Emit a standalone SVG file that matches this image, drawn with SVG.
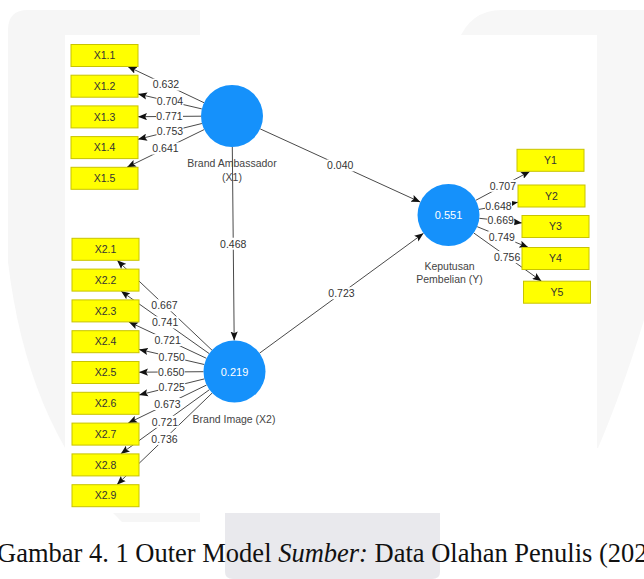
<svg xmlns="http://www.w3.org/2000/svg" width="644" height="579" viewBox="0 0 644 579">
  <defs>
    <marker id="arr" viewBox="0 0 10 8" refX="10" refY="4" markerWidth="9" markerHeight="7.5" markerUnits="userSpaceOnUse" orient="auto">
      <path d="M0,0 L10,4 L0,8 L2,4 z" fill="#111"/>
    </marker>
    <style>
      .ind rect { fill: #ffff00; stroke: #c8c400; stroke-width: 1; }
      .ind text { font-family: "Liberation Sans", Arial, sans-serif; font-size: 10.5px; fill: #333; text-anchor: middle; }
      .lv circle { fill: #1591fb; }
      .lv .val { font-family: "Liberation Sans", Arial, sans-serif; font-size: 11px; fill: #ffffff; text-anchor: middle; }
      .lv .name { font-family: "Liberation Sans", Arial, sans-serif; font-size: 10.5px; fill: #444; text-anchor: middle; }
      #connectors line { stroke: #4a4a4a; stroke-width: 1; marker-end: url(#arr); }
      .lbl rect { fill: #ffffff; }
      .lbl text { font-family: "Liberation Sans", Arial, sans-serif; font-size: 10.5px; fill: #333; text-anchor: middle; }
    </style>
  </defs>

  <!-- page background with faint watermark -->
  <rect x="0" y="0" width="644" height="579" fill="#ffffff"/>
  <path d="M8,30 Q8,10 28,10 L200,10 L200,522 L122,522 Q28,430 8,262 Z" fill="#f6f6f6"/>
  <path d="M458,42 Q470,10 502,10 L644,10 L644,320 Q622,392 598,448 L458,448 Z" fill="#f7f7f7"/>
  <path d="M225,513 L440,513 L440,572 Q440,579 432,579 L233,579 Q225,579 225,572 Z" fill="#e9e9ed"/>

  <!-- model canvas -->
  <rect x="65" y="35" width="532" height="478" fill="#ffffff"/>

  <!-- connectors -->
  <g id="connectors">
    <!-- Brand Ambassador indicators -->
    <line x1="204" y1="102.7" x2="127.7" y2="66.5"/>
    <line x1="201.8" y1="108.9" x2="138" y2="94"/>
    <line x1="201" y1="116.2" x2="138" y2="116.7"/>
    <line x1="201.9" y1="123.5" x2="138" y2="139.3"/>
    <line x1="204.1" y1="129.6" x2="127" y2="167.3"/>
    <!-- Brand Image indicators -->
    <line x1="212" y1="350.2" x2="117.1" y2="260.3"/>
    <line x1="209.2" y1="353.6" x2="121" y2="291.1"/>
    <line x1="206.4" y1="358.3" x2="128.9" y2="321.9"/>
    <line x1="204.3" y1="364.5" x2="139" y2="349.4"/>
    <line x1="203.5" y1="371.7" x2="139" y2="372.2"/>
    <line x1="204.4" y1="378.9" x2="139" y2="395"/>
    <line x1="206.6" y1="385" x2="128.2" y2="423.1"/>
    <line x1="209.4" y1="389.7" x2="120.7" y2="453.9"/>
    <line x1="212.2" y1="393" x2="116.9" y2="484.7"/>
    <!-- Keputusan Pembelian indicators -->
    <line x1="475.8" y1="200.3" x2="530" y2="171.3"/>
    <line x1="479" y1="209.4" x2="518" y2="202.2"/>
    <line x1="479.3" y1="218.3" x2="522" y2="222.9"/>
    <line x1="477.2" y1="226.7" x2="528.4" y2="247.5"/>
    <line x1="473.8" y1="233" x2="541.5" y2="281.2"/>
    <!-- structural paths -->
    <line x1="260.2" y1="128.9" x2="420.3" y2="202.1"/>
    <line x1="232.3" y1="147" x2="234.2" y2="340.5"/>
    <line x1="259.5" y1="353.2" x2="423.5" y2="233.3"/>
  </g>

  <!-- path coefficients and loadings -->
  <g id="labels" class="lbl">
    <rect x="152.5" y="78.6" width="27" height="12"/><text x="166" y="88.4">0.632</text>
    <rect x="156.5" y="95.5" width="27" height="12"/><text x="170" y="105.3">0.704</text>
    <rect x="156" y="110.4" width="27" height="12"/><text x="169.5" y="120.2">0.771</text>
    <rect x="156.5" y="125.4" width="27" height="12"/><text x="170" y="135.2">0.753</text>
    <rect x="152" y="142.5" width="27" height="12"/><text x="165.5" y="152.3">0.641</text>

    <rect x="151" y="299.3" width="27" height="12"/><text x="164.5" y="309.1">0.667</text>
    <rect x="151.6" y="316.4" width="27" height="12"/><text x="165.1" y="326.2">0.741</text>
    <rect x="154.1" y="334.1" width="27" height="12"/><text x="167.6" y="343.9">0.721</text>
    <rect x="158.2" y="351" width="27" height="12"/><text x="171.7" y="360.8">0.750</text>
    <rect x="157.7" y="366" width="27" height="12"/><text x="171.2" y="375.8">0.650</text>
    <rect x="158.2" y="381" width="27" height="12"/><text x="171.7" y="390.8">0.725</text>
    <rect x="153.9" y="398" width="27" height="12"/><text x="167.4" y="407.8">0.673</text>
    <rect x="151.5" y="415.8" width="27" height="12"/><text x="165" y="425.6">0.721</text>
    <rect x="151" y="432.9" width="27" height="12"/><text x="164.5" y="442.7">0.736</text>

    <rect x="489.4" y="179.8" width="27" height="12"/><text x="502.9" y="189.6">0.707</text>
    <rect x="485" y="199.8" width="27" height="12"/><text x="498.5" y="209.6">0.648</text>
    <rect x="487.2" y="214.6" width="27" height="12"/><text x="500.7" y="224.4">0.669</text>
    <rect x="488.3" y="231.1" width="27" height="12"/><text x="501.8" y="240.9">0.749</text>
    <rect x="493.6" y="251.1" width="27" height="12"/><text x="507.1" y="260.9">0.756</text>

    <rect x="326.7" y="159.5" width="27" height="12"/><text x="340.2" y="169.3">0.040</text>
    <rect x="219.7" y="237.7" width="27" height="12"/><text x="233.2" y="247.5">0.468</text>
    <rect x="328" y="287.2" width="27" height="12"/><text x="341.5" y="297">0.723</text>
  </g>

  <!-- latent variables -->
  <g id="X1" class="lv">
    <circle cx="232" cy="116" r="31"/>
    <text class="name" x="232" y="167">Brand Ambassador</text>
    <text class="name" x="232" y="180.5">(X1)</text>
  </g>
  <g id="X2" class="lv">
    <circle cx="234.5" cy="371.5" r="31"/>
    <text class="val" x="234.5" y="375.5">0.219</text>
    <text class="name" x="234" y="423">Brand Image (X2)</text>
  </g>
  <g id="Y" class="lv">
    <circle cx="448.5" cy="215" r="31"/>
    <text class="val" x="448.5" y="219">0.551</text>
    <text class="name" x="449.5" y="270">Keputusan</text>
    <text class="name" x="449.5" y="282.5">Pembelian (Y)</text>
  </g>

  <!-- indicators of Brand Ambassador -->
  <g id="X1.1" class="ind"><rect x="71" y="44.5" width="67" height="22"/><text x="104.5" y="59.2">X1.1</text></g>
  <g id="X1.2" class="ind"><rect x="71" y="75.2" width="67" height="22"/><text x="104.5" y="89.9">X1.2</text></g>
  <g id="X1.3" class="ind"><rect x="71" y="105.9" width="67" height="22"/><text x="104.5" y="120.6">X1.3</text></g>
  <g id="X1.4" class="ind"><rect x="71" y="136.6" width="67" height="22"/><text x="104.5" y="151.3">X1.4</text></g>
  <g id="X1.5" class="ind"><rect x="71" y="167.3" width="67" height="22"/><text x="104.5" y="182">X1.5</text></g>

  <!-- indicators of Brand Image -->
  <g id="X2.1" class="ind"><rect x="72" y="238.3" width="67" height="22"/><text x="105.5" y="253">X2.1</text></g>
  <g id="X2.2" class="ind"><rect x="72" y="269.1" width="67" height="22"/><text x="105.5" y="283.8">X2.2</text></g>
  <g id="X2.3" class="ind"><rect x="72" y="299.9" width="67" height="22"/><text x="105.5" y="314.6">X2.3</text></g>
  <g id="X2.4" class="ind"><rect x="72" y="330.7" width="67" height="22"/><text x="105.5" y="345.4">X2.4</text></g>
  <g id="X2.5" class="ind"><rect x="72" y="361.5" width="67" height="22"/><text x="105.5" y="376.2">X2.5</text></g>
  <g id="X2.6" class="ind"><rect x="72" y="392.3" width="67" height="22"/><text x="105.5" y="407">X2.6</text></g>
  <g id="X2.7" class="ind"><rect x="72" y="423.1" width="67" height="22"/><text x="105.5" y="437.8">X2.7</text></g>
  <g id="X2.8" class="ind"><rect x="72" y="453.9" width="67" height="22"/><text x="105.5" y="468.6">X2.8</text></g>
  <g id="X2.9" class="ind"><rect x="72" y="484.7" width="67" height="22"/><text x="105.5" y="499.4">X2.9</text></g>

  <!-- indicators of Keputusan Pembelian -->
  <g id="Y1" class="ind"><rect x="517" y="149.3" width="67" height="22"/><text x="550.5" y="164">Y1</text></g>
  <g id="Y2" class="ind"><rect x="518" y="185" width="67" height="22"/><text x="551.5" y="199.7">Y2</text></g>
  <g id="Y3" class="ind"><rect x="522" y="215.5" width="67" height="22"/><text x="555.5" y="230.2">Y3</text></g>
  <g id="Y4" class="ind"><rect x="522" y="247.5" width="67" height="22"/><text x="555.5" y="262.2">Y4</text></g>
  <g id="Y5" class="ind"><rect x="523.5" y="281.2" width="67" height="22"/><text x="557" y="295.9">Y5</text></g>

  <!-- caption -->
  <text x="-3" y="562" font-family="'Liberation Serif', 'Times New Roman', serif" font-size="26.5" fill="#111">Gambar 4. 1 Outer Model <tspan font-style="italic">Sumber:</tspan> Data Olahan Penulis (202</text>
</svg>
